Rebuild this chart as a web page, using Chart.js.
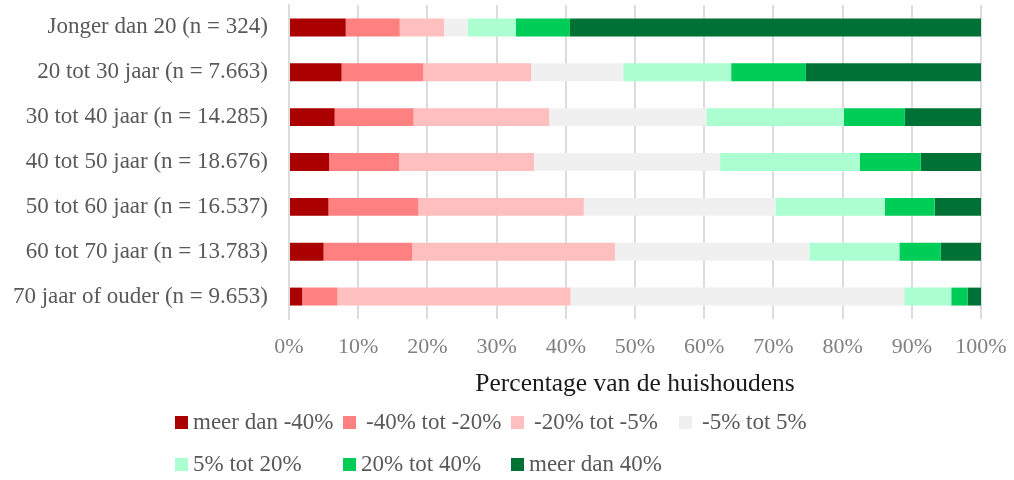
<!DOCTYPE html>
<html>
<head>
<meta charset="utf-8">
<script src="https://cdn.jsdelivr.net/npm/chart.js@4.4.0/dist/chart.umd.min.js"></script>
<style>
    html, body { margin: 0; padding: 0; background: #fff; }
    #wrap { position: relative; width: 1014px; height: 480px; }
    #legend {
        position: absolute; left: 175px; top: 408px;
        display: grid; grid-template-columns: repeat(4, 168px); row-gap: 14px;
        font-family: 'Liberation Serif', serif; font-size: 23px; color: #595959;
    }
    .item { display: flex; align-items: center; height: 28px; white-space: nowrap; }
    .box { width: 13px; height: 13px; margin-right: 5px; flex: none; }
    .item:nth-child(2) .box, .item:nth-child(3) .box, .item:nth-child(4) .box { margin-right: 10px; }
</style>
</head>
<body>
<div id="wrap">
    <canvas id="chart" width="1014" height="480"></canvas>
    <div id="legend"></div>
</div>
<script>
// ========================================
// Verandering besteedbaar inkomen per leeftijdsgroep
// ========================================

const categories = [
    'Jonger dan 20 (n = 324)',
    '20 tot 30 jaar (n = 7.663)',
    '30 tot 40 jaar (n = 14.285)',
    '40 tot 50 jaar (n = 18.676)',
    '50 tot 60 jaar (n = 16.537)',
    '60 tot 70 jaar (n = 13.783)',
    '70 jaar of ouder (n = 9.653)'
];

const seriesNames = ['meer dan -40%', '-40% tot -20%', '-20% tot -5%', '-5% tot 5%', '5% tot 20%', '20% tot 40%', 'meer dan 40%'];
const seriesColors = ['#aa0000', '#ff8080', '#ffbfbf', '#f0f0f0', '#abffd1', '#00cc58', '#007134'];

// waarden per klasse (percentage huishoudens), in volgorde van categories
const meerDanMin40 = [8.2, 7.6, 6.6, 5.8, 5.7, 5.0, 1.9];
const min40totMin20 = [7.8, 11.8, 11.4, 10.1, 13.0, 12.8, 5.1];
const min20totMin5 = [6.4, 15.6, 19.6, 19.5, 23.9, 29.3, 33.7];
const min5tot5 = [3.4, 13.3, 22.7, 26.9, 27.7, 28.1, 48.2];
const plus5tot20 = [7.0, 15.6, 19.9, 20.2, 15.8, 13.0, 6.8];
const plus20tot40 = [7.8, 10.8, 8.8, 8.8, 7.2, 6.0, 2.4];
const meerDan40 = [59.4, 25.3, 11.0, 8.7, 6.7, 5.8, 1.9];

const tickValues = [0, 10, 20, 30, 40, 50, 60, 70, 80, 90, 100];

const seriesData = [meerDanMin40, min40totMin20, min20totMin5, min5tot5, plus5tot20, plus20tot40, meerDan40];

const serif = 'Liberation Serif';

const ctx = document.getElementById('chart').getContext('2d');
const chart = new Chart(ctx, {
    type: 'bar',
    data: {
        labels: categories,
        datasets: seriesNames.map((name, i) => ({
            label: name,
            data: seriesData[i],
            backgroundColor: seriesColors[i],
            borderWidth: 0,
            categoryPercentage: 1,
            barPercentage: 0.4
        }))
    },
    options: {
        indexAxis: 'y',
        responsive: false,
        animation: false,
        layout: {
            padding: { left: 10, right: 33, top: 5, bottom: 80 }
        },
        scales: {
            x: {
                stacked: true,
                min: 0,
                max: 100,
                afterBuildTicks: axis => {
                    axis.ticks = tickValues.map(v => ({ value: v }));
                },
                afterFit: axis => {
                    axis.height = 81;
                    axis.paddingLeft = 0;
                    axis.paddingRight = 0;
                },
                grid: {
                    color: '#dcdcdc',
                    lineWidth: 2,
                    drawTicks: false
                },
                border: { display: false },
                ticks: {
                    color: '#808080',
                    padding: 15,
                    maxRotation: 0,
                    font: { family: serif, size: 22 },
                    callback: v => v + '%'
                },
                title: {
                    display: true,
                    text: 'Percentage van de huishoudens',
                    color: '#1a1a1a',
                    padding: { top: 4, bottom: 0 },
                    font: { family: serif, size: 25.5 }
                }
            },
            y: {
                stacked: true,
                afterFit: axis => {
                    axis.width = 279;
                    axis.paddingTop = 0;
                    axis.paddingBottom = 0;
                },
                grid: { display: false, drawTicks: false },
                border: { display: true, color: '#dcdcdc', width: 2 },
                ticks: {
                    color: '#595959',
                    padding: 21,
                    font: { family: serif, size: 23 }
                }
            }
        },
        plugins: {
            legend: { display: false },
            tooltip: { enabled: false }
        }
    }
});

// legenda in raster, zoals in het origineel
const legendEl = document.getElementById('legend');
chart.data.datasets.forEach(ds => {
    const item = document.createElement('div');
    item.className = 'item';
    const box = document.createElement('span');
    box.className = 'box';
    box.style.background = ds.backgroundColor;
    const txt = document.createElement('span');
    txt.textContent = ds.label;
    item.appendChild(box);
    item.appendChild(txt);
    legendEl.appendChild(item);
});
</script>
</body>
</html>
